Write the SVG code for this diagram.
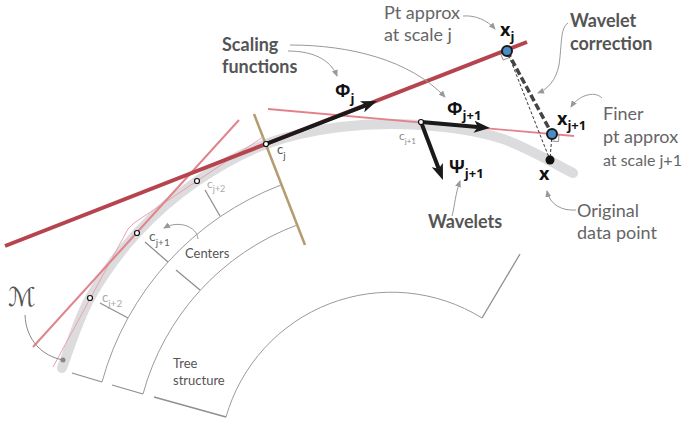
<svg xmlns="http://www.w3.org/2000/svg" width="683" height="426" viewBox="0 0 683 426">
<style>
.lbl{font-family:Lato,"Open Sans",sans-serif;font-size:18px;fill:#666}
.hdr{font-family:Lato,"Open Sans",sans-serif;font-weight:700;font-size:18px;fill:#555}
.math{font-family:"Open Sans","DejaVu Sans",sans-serif;font-weight:700;font-size:18px;fill:#111}
.sm{font-family:Lato,"Open Sans",sans-serif;font-size:13px;fill:#555}
.tree{fill:none;stroke:#9a9a9a;stroke-width:1}
.tick{stroke:#8f8f8f;stroke-width:1.3}
.ann{fill:none;stroke:#999;stroke-width:1}
.blk{stroke:#1a1a1a;stroke-width:4;fill:none}
.ctr{fill:#fff;stroke:#111;stroke-width:1.2}
.pt{fill:#4a8cc6;stroke:#1a1a1a;stroke-width:2}
</style>
<defs>
<marker id="bh" viewBox="0 -6 16 12" refX="4" refY="0" markerWidth="16" markerHeight="12" markerUnits="userSpaceOnUse" orient="auto">
<path d="M0,-6 L16,0 L0,6 L4,0 z" fill="#1a1a1a"/>
</marker>
<marker id="gh" viewBox="0 -3 7 6" refX="6" refY="0" markerWidth="7" markerHeight="6" markerUnits="userSpaceOnUse" orient="auto">
<path d="M0,-3 L7,0 L0,3 z" fill="#999"/>
</marker>
</defs>
<rect width="683" height="426" fill="#fff"/>

<g id="manifold">
<path d="M62,368 C66.7,356.3 77.5,320.5 90,298 C102.5,275.5 119.2,252.5 137,233 C154.8,213.5 175.5,195.8 197,181 C218.5,166.2 242.2,153 266,144 C289.8,135 314.2,130.2 340,127 C365.8,123.8 394.3,123.2 421,125 C447.7,126.8 474.7,130 500,138 C525.3,146 560.8,167.2 573,173" fill="none" stroke="#dcdcde" stroke-width="10" stroke-linecap="round"/>
</g>

<g id="tree-structure">
<path class="tree" d="M102,382 A294,294 0 0 1 281,185"/>
<path class="tree" d="M143,394 A251,251 0 0 1 297,225"/>
<path class="tree" d="M226,417 A172,172 0 0 1 482,318"/>
<line class="tick" x1="72" y1="373" x2="102" y2="382"/>
<line class="tick" x1="112" y1="385" x2="143" y2="394"/>
<line class="tick" x1="154" y1="397" x2="226" y2="417"/>
<line class="tick" x1="482" y1="318" x2="520" y2="254"/>
<line class="tick" x1="100" y1="303" x2="128" y2="318"/>
<line class="tick" x1="145" y1="242" x2="168" y2="262"/>
<line class="tick" x1="176" y1="270" x2="200" y2="290"/>
<line class="tick" x1="205" y1="190" x2="220" y2="216"/>
<line x1="254" y1="114" x2="305" y2="245" stroke="#b39c70" stroke-width="2.5"/>
</g>

<g id="approximations">
<polyline points="53,367 128,229 134,223 263,137" fill="none" stroke="#e9a2a8" stroke-width="1"/>
<line x1="239" y1="120" x2="33" y2="347" stroke="#e2838c" stroke-width="2"/>
<line x1="268" y1="109" x2="574" y2="136" stroke="#e2838c" stroke-width="1.8"/>
<line x1="5" y1="246" x2="527" y2="42" stroke="#b6444f" stroke-width="4"/>
</g>

<g id="connectors">
<line class="blk" x1="266" y1="144" x2="365.8" y2="105.3" marker-end="url(#bh)"/>
<line class="blk" x1="421" y1="122" x2="478" y2="127" marker-end="url(#bh)"/>
<line class="blk" x1="421" y1="122" x2="438.7" y2="168.8" marker-end="url(#bh)"/>
<line x1="507" y1="51" x2="550" y2="160" stroke="#333" stroke-width="1" stroke-dasharray="3 2"/>
<line x1="552" y1="134" x2="550" y2="160" stroke="#333" stroke-width="1" stroke-dasharray="3 2"/>
<line x1="507" y1="51" x2="552" y2="134" stroke="#444" stroke-width="3.5" stroke-dasharray="7 3"/>
<polyline points="500.5,53.5 503.1,60 509.6,57.5" fill="none" stroke="#777" stroke-width="0.8"/>
<polyline points="559,134.6 558.5,141.6 551.5,141" fill="none" stroke="#777" stroke-width="0.8"/>
<path class="ann" d="M463,16 C475,15 487,20 495,29" marker-end="url(#gh)"/>
<path class="ann" d="M568,23 C560,28 562,45 559,65 C556,80 548,89 538,93" marker-end="url(#gh)"/>
<path class="ann" d="M602,98 C594,90 578,96 571,107" marker-end="url(#gh)"/>
<path class="ann" d="M576,210 C562,211 550,205 547,191" marker-end="url(#gh)"/>
<path class="ann" d="M452,216 C455,205 455,195 460,181" marker-end="url(#gh)"/>
<path class="ann" d="M288,51 C310,51 330,58 337,76" marker-end="url(#gh)"/>
<path class="ann" d="M290,45 C350,45 410,60 445,97" marker-end="url(#gh)"/>
<path class="ann" d="M198,239 C197,226 178,220 164,228" marker-end="url(#gh)"/>
<path d="M25,315 C26,340 42,356 63,360" fill="none" stroke="#888" stroke-width="1"/>
<circle cx="63" cy="360" r="2.5" fill="#888"/>
</g>

<g id="centers">
<circle class="ctr" cx="266" cy="144" r="2.5"/>
<circle class="ctr" cx="421" cy="122" r="2.5"/>
<circle class="ctr" cx="197" cy="181" r="2.5"/>
<circle class="ctr" cx="137" cy="233" r="2.5"/>
<circle class="ctr" cx="90" cy="298" r="2.5"/>
<text class="sm" x="277" y="154" font-size="14">c<tspan font-size="10" dy="5">j</tspan></text>
<text class="sm" x="399" y="140" style="fill:#8a8a8a;font-size:12px">c<tspan font-size="8" dy="4">j+1</tspan></text>
<text class="sm" x="207" y="188" style="fill:#aaa;font-size:12px">c<tspan font-size="9" dy="4">j+2</tspan></text>
<text class="sm" x="149" y="241" style="fill:#666;font-size:14px">c<tspan font-size="10" dy="5">j+1</tspan></text>
<text class="sm" x="102" y="302" style="fill:#aaa;font-size:13px">c<tspan font-size="10" dy="5">j+2</tspan></text>
</g>

<g id="point-xj">
<circle class="pt" cx="507" cy="51" r="5"/>
<text class="math" x="500" y="36">x<tspan font-size="13" dy="5">j</tspan></text>
</g>
<g id="point-xj1">
<circle class="pt" cx="552" cy="134" r="5"/>
<text class="math" x="557" y="125">x<tspan font-size="13" dy="5">j+1</tspan></text>
</g>
<g id="point-x">
<circle cx="550" cy="160" r="4.5" fill="#111"/>
<text class="math" x="539" y="180">x</text>
</g>

<g id="phi-j"><text class="math" x="335" y="97">Φ<tspan font-size="13" dy="6">j</tspan></text></g>
<g id="phi-j1"><text class="math" x="447" y="115">Φ<tspan font-size="13" dy="5">j+1</tspan></text></g>
<g id="psi-j1"><text class="math" x="449" y="173">Ψ<tspan font-size="13" dy="5">j+1</tspan></text></g>

<g id="label-pt-approx"><text class="lbl" x="384" y="19">Pt approx</text><text class="lbl" x="384" y="41">at scale j</text></g>
<g id="label-wavelet-correction"><text class="hdr" x="570" y="27">Wavelet</text><text class="hdr" x="570" y="50">correction</text></g>
<g id="label-finer"><text class="lbl" x="603" y="120">Finer</text><text class="lbl" x="603" y="143">pt approx</text><text class="lbl" x="603" y="166" style="font-size:16px">at scale j+1</text></g>
<g id="label-original"><text class="lbl" x="577" y="217">Original</text><text class="lbl" x="577" y="239">data point</text></g>
<g id="label-scaling"><text class="hdr" x="222" y="51">Scaling</text><text class="hdr" x="222" y="73">functions</text></g>
<g id="label-wavelets"><text class="hdr" x="428" y="228">Wavelets</text></g>
<g id="label-centers"><text class="sm" x="185" y="258">Centers</text></g>
<g id="label-tree"><text class="sm" x="173" y="368">Tree</text><text class="sm" x="173" y="385">structure</text></g>
<g id="label-M"><text x="8" y="306" style="font-family:'DejaVu Sans','DejaVu Serif',sans-serif;font-size:26px;fill:#555">ℳ</text></g>
</svg>
